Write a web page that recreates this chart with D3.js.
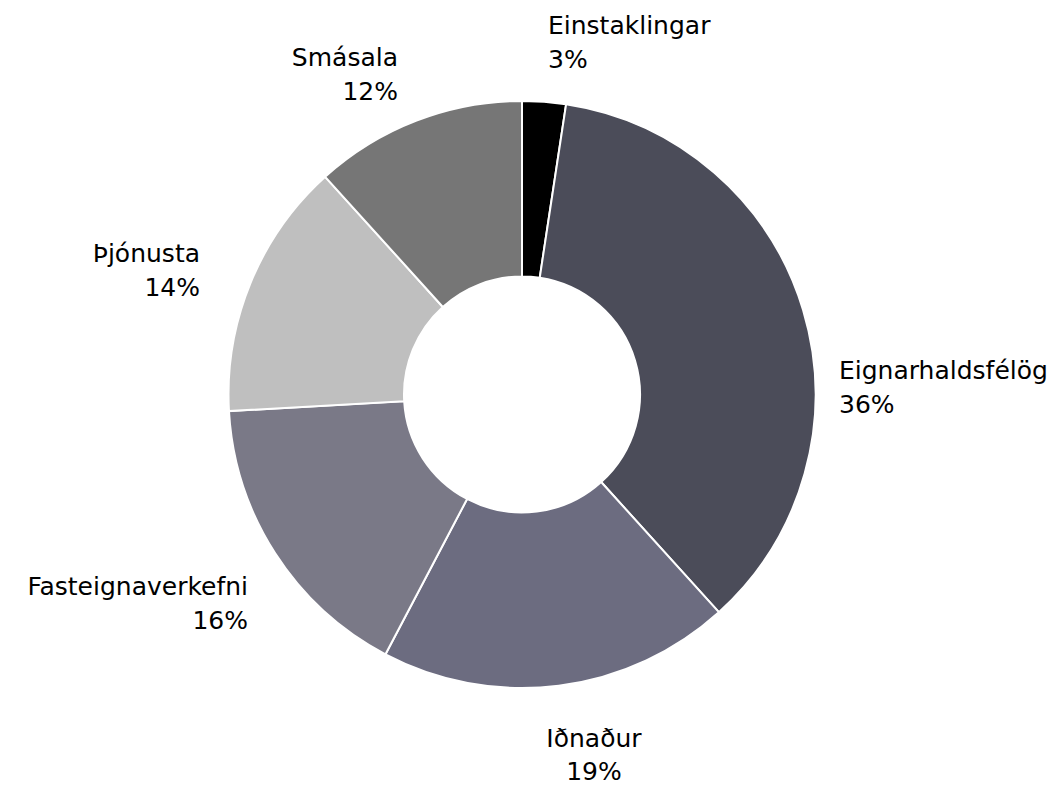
<!DOCTYPE html>
<html>
<head>
<meta charset="utf-8">
<script src="https://cdn.jsdelivr.net/npm/d3@7"></script>
<style>
  html, body { margin: 0; padding: 0; background: #fff; }
</style>
</head>
<body>
<div id="chart"></div>
<script>
// Data
var categories = ['Einstaklingar', 'Eignarhaldsfélög', 'Iðnaður', 'Fasteignaverkefni', 'Þjónusta', 'Smásala']
var shares = [2.4, 35.9, 19.4, 16.4, 14.2, 11.7]
var shareLabels = ['3%', '36%', '19%', '16%', '14%', '12%']
var colors = ['#000000', '#4b4c59', '#6c6c80', '#7a7987', '#bfbfbf', '#767676']

// Settings
var settings = {}
settings.width = 1057
settings.height = 787
settings.cx = 522
settings.cy = 394.5
settings.outer_radius = 293.5
settings.inner_radius = 118
settings.font_size = 25
settings.line_height = 34
settings.font_family = 'DejaVu Sans, Verdana, sans-serif'
// label anchors, relative to the centre (first baseline)
settings.label_pos = [
  {dx: 26, dy: -360.5, anchor: 'start', lh: 34},
  {dx: 317, dy: -15.5, anchor: 'start', lh: 34},
  {dx: 72, dy: 352, anchor: 'middle', lh: 33},
  {dx: -274, dy: 200, anchor: 'end', lh: 34},
  {dx: -322, dy: -132.5, anchor: 'end', lh: 34},
  {dx: -124, dy: -328.5, anchor: 'end', lh: 34}
]

var svg = d3.select('#chart').append('svg')
  .attr('width', settings.width)
  .attr('height', settings.height)
  .style('display', 'block')

var g = svg.append('g')
  .attr('transform', 'translate(' + settings.cx + ',' + settings.cy + ')')

var pie = d3.pie().sort(null).value(function(d){ return d })
var arcs = pie(shares)

var arc = d3.arc()
  .innerRadius(settings.inner_radius)
  .outerRadius(settings.outer_radius)

// Slices
g.selectAll('path.slice')
  .data(arcs)
  .enter().append('path')
  .attr('class', 'slice')
  .attr('d', arc)
  .attr('fill', function(d, i){ return colors[i] })
  .attr('stroke', '#fff')
  .attr('stroke-width', 2)

// Labels
var labels = g.selectAll('text.label')
  .data(arcs)
  .enter().append('text')
  .attr('class', 'label')
  .attr('font-family', settings.font_family)
  .attr('font-size', settings.font_size)
  .attr('fill', '#000')
  .attr('text-anchor', function(d, i){ return settings.label_pos[i].anchor })

labels.append('tspan')
  .attr('x', function(d, i){ return settings.label_pos[i].dx })
  .attr('y', function(d, i){ return settings.label_pos[i].dy })
  .text(function(d, i){ return categories[i] })

labels.append('tspan')
  .attr('x', function(d, i){ return settings.label_pos[i].dx })
  .attr('y', function(d, i){ return settings.label_pos[i].dy + settings.label_pos[i].lh })
  .text(function(d, i){ return shareLabels[i] })
</script>
</body>
</html>
